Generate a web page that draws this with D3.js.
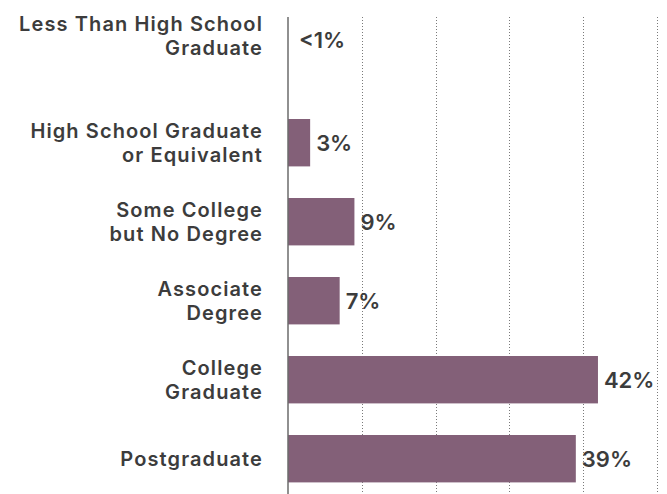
<!DOCTYPE html>
<html>
<head>
<meta charset="utf-8">
<script src="https://cdn.jsdelivr.net/npm/d3@7"></script>
<style>
  html, body { margin: 0; padding: 0; background: #fff; }
  svg { display: block; font-family: Inter, "Open Sans", sans-serif; }
</style>
</head>
<body>
<svg id="chart" width="667" height="494"></svg>
<script>
// Educational attainment share (%)
const categories = [
  ["Less Than High School", "Graduate"],
  ["High School Graduate", "or Equivalent"],
  ["Some College", "but No Degree"],
  ["Associate", "Degree"],
  ["College", "Graduate"],
  ["Postgraduate"]
];
const values = [0, 3, 9, 7, 42, 39];
const valueLabels = ["<1%", "3%", "9%", "7%", "42%", "39%"];
const gridTicks = [10, 20, 30, 40, 50];

const svg = d3.select("#chart");
const W = 667, H = 494;
const barColor = "#836078";
const textColor = "#3c3c3c";

const rows = categories.map((c, i) => ({ key: i, lines: c, value: values[i], label: valueLabels[i] }));

const x = d3.scaleLinear().domain([0, 50]).range([288, 657]);
const y = d3.scaleBand()
  .domain(rows.map(d => d.key))
  .range([24.2, 498.2])
  .paddingInner(0.4)
  .paddingOuter(0.2);

// dotted vertical gridlines, snapped to the pixel grid
const snap = v => Math.round(v) + 0.5;
svg.append("g")
  .selectAll("line")
  .data(gridTicks)
  .join("line")
  .attr("x1", d => snap(x(d))).attr("x2", d => snap(x(d)))
  .attr("y1", 17).attr("y2", H)
  .attr("stroke", "#7a7a7a")
  .attr("stroke-width", 1)
  .attr("stroke-dasharray", "1,2");

// bars
svg.append("g")
  .selectAll("rect")
  .data(rows.filter(d => d.value > 0))
  .join("rect")
  .attr("x", x(0))
  .attr("y", d => y(d.key))
  .attr("width", d => x(d.value) - x(0))
  .attr("height", y.bandwidth())
  .attr("fill", barColor);

// baseline axis
svg.append("line")
  .attr("x1", x(0)).attr("x2", x(0))
  .attr("y1", 17).attr("y2", H)
  .attr("stroke", "#6b6b6b")
  .attr("stroke-width", 1.5);

// rows without a bar sit their labels on the band's top edge
const rowCenter = d => d.value > 0 ? y(d.key) + y.bandwidth() / 2 : y(d.key) - 4;

// category labels
const lineH = 24.5;
const cat = svg.append("g")
  .selectAll("text")
  .data(rows)
  .join("text")
  .attr("text-anchor", "end")
  .attr("font-size", 20)
  .attr("font-weight", 600)
  .attr("letter-spacing", 1.1)
  .attr("fill", textColor);
cat.each(function(d) {
  const n = d.lines.length;
  const t = d3.select(this);
  d.lines.forEach((ln, i) => {
    t.append("tspan")
      .attr("x", 263)
      .attr("y", rowCenter(d) + (i - (n - 1) / 2) * lineH)
      .attr("dy", "0.36em")
      .text(ln);
  });
});

// value labels
svg.append("g")
  .selectAll("text")
  .data(rows)
  .join("text")
  .attr("x", d => x(d.value) + (d.value > 0 ? 6 : 11))
  .attr("y", d => d.value > 0 ? rowCenter(d) : rowCenter(d) + 4)
  .attr("dy", "0.36em")
  .attr("font-size", 22)
  .attr("font-weight", 600)
  .attr("fill", textColor)
  .text(d => d.label);
</script>
</body>
</html>
